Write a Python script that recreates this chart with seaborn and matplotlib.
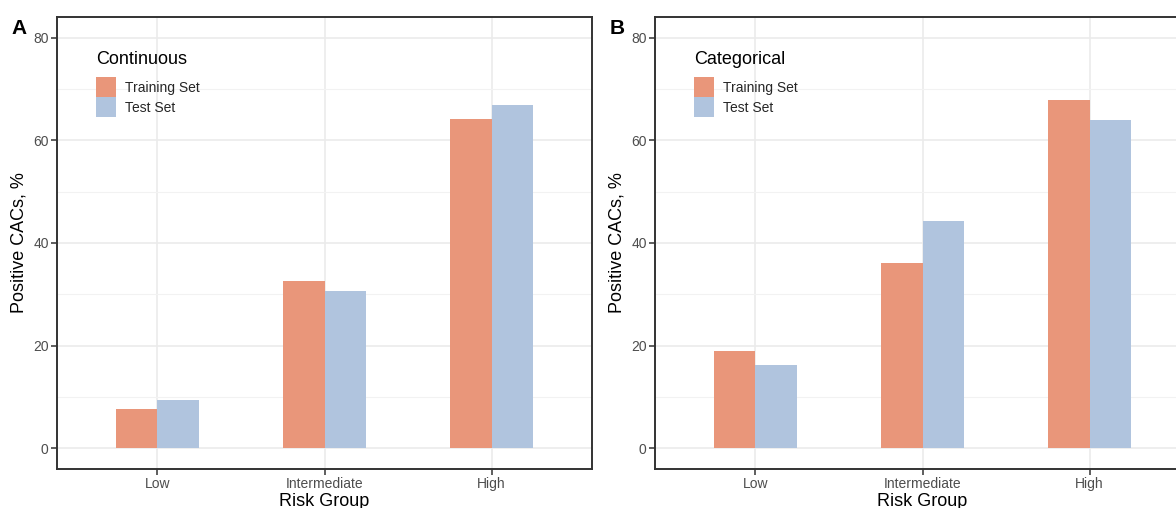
import numpy as np
import pandas as pd
import matplotlib
matplotlib.use("Agg")
import matplotlib.pyplot as plt
import seaborn as sns
from matplotlib.patches import Patch

# --- data ---
risk_groups = ["Low", "Intermediate", "High"]
sets = ["Training Set", "Test Set"]
continuous_train = [7.6, 32.6, 64.2]
continuous_test = [9.4, 30.7, 66.9]
categorical_train = [19.0, 36.1, 67.8]
categorical_test = [16.3, 44.3, 64.0]
yticks = [0, 20, 40, 60, 80]

colors = {"Training Set": "#E9967A", "Test Set": "#B0C4DE"}

sns.set_theme(style="white")
plt.rcParams["font.family"] = ["Liberation Sans", "DejaVu Sans"]


def make_df(train, test):
    return pd.DataFrame({
        "Risk Group": risk_groups * 2,
        "Set": [sets[0]] * 3 + [sets[1]] * 3,
        "value": list(train) + list(test),
    })


W, H = 1176, 508
fig = plt.figure(figsize=(W / 100, H / 100), dpi=100)


def px_axes(left, top, right, bottom):
    return fig.add_axes([left / W, 1 - bottom / H, (right - left) / W, (bottom - top) / H])


panels = [
    (px_axes(57, 17, 592, 469), make_df(continuous_train, continuous_test), "Continuous", "A", 11),
    (px_axes(655, 17, 1190, 469), make_df(categorical_train, categorical_test), "Categorical", "B", 610),
]

for ax, df, title, letter, lx in panels:
    sns.barplot(data=df, x="Risk Group", y="value", hue="Set", order=risk_groups,
                hue_order=sets, palette=colors, width=0.5, gap=0, saturation=1,
                errorbar=None, linewidth=0, ax=ax, legend=False)
    ax.set_xlim(-0.6, 2.6)
    ax.set_ylim(-4, 84)
    ax.set_yticks(yticks)
    ax.set_yticks([10, 30, 50, 70], minor=True)
    ax.set_axisbelow(True)
    ax.grid(True, which="major", color="#EBEBEB", lw=1.2)
    ax.grid(True, which="minor", axis="y", color="#F2F2F2", lw=0.8)
    for s in ax.spines.values():
        s.set_color("#333333")
        s.set_linewidth(1.4)
    ax.tick_params(axis="both", which="major", length=4, width=1.1, color="#333333",
                   labelsize=10, labelcolor="#4D4D4D", pad=2, left=True, bottom=True)
    ax.tick_params(axis="y", which="minor", length=0)
    ax.set_xlabel("Risk Group", fontsize=13, color="black", labelpad=1)
    ax.set_ylabel("Positive CACs, %", fontsize=13, color="black", labelpad=4)

    # legend inside the panel: title drawn separately so keys can sit flush
    handles = [Patch(facecolor=colors[s], edgecolor="none", label=s) for s in sets]
    ax.legend(handles=handles, loc="upper left", bbox_to_anchor=(0.0729, 0.867),
              frameon=False, fontsize=10, handlelength=1.44, handleheight=1.84,
              labelspacing=0, handletextpad=0.65, borderpad=0, borderaxespad=0)
    ax.text(0.0729, 0.905, title, transform=ax.transAxes, fontsize=13,
            ha="left", va="center", color="black")

    fig.text(lx / W, 1 - 34 / H, letter, fontsize=15, fontweight="bold", color="black")

fig.savefig("out.png", dpi=100)
